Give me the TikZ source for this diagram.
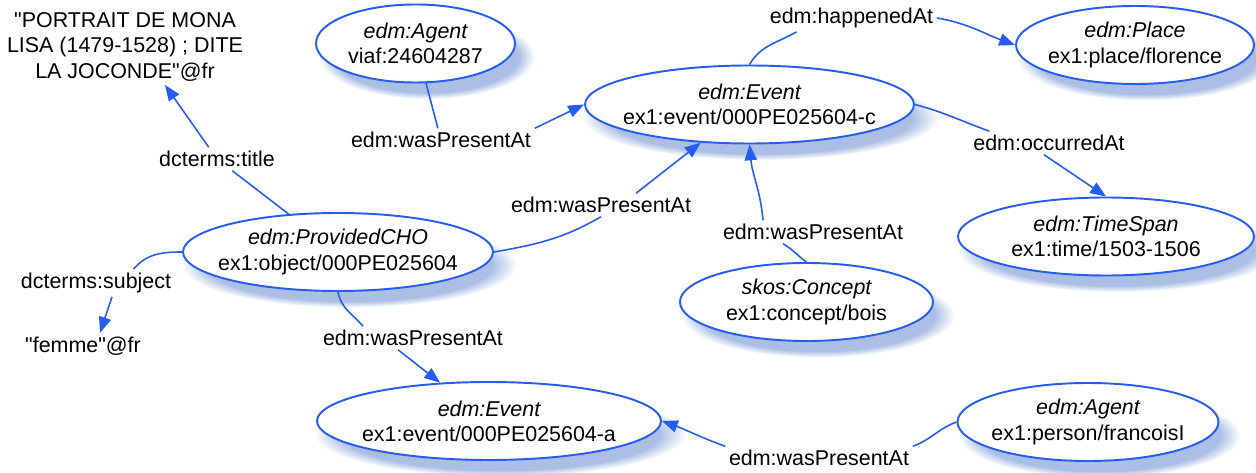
\documentclass[tikz,border=0pt]{standalone}
\usepackage{fontspec}
\newfontfamily\edmfont{Liberation Sans}
\usetikzlibrary{arrows.meta,shapes.geometric,shadows}
\definecolor{relblue}{RGB}{38,92,240}
\definecolor{shadeblue}{RGB}{150,175,222}

\begin{document}
\begin{tikzpicture}[font=\edmfont\fontsize{12.2}{14.3}\selectfont,
obj/.style={ellipse, draw=relblue, line width=1.1pt, fill=white, inner ysep=0pt, inner xsep=-1cm, minimum height=1.56cm, align=center,
  circular drop shadow={shadow xshift=6pt, shadow yshift=-7pt, shadow scale=1.08, fill=shadeblue, opacity=0.8}},
lit/.style={align=center, inner sep=2pt},
lbl/.style={inner sep=2pt},
rel/.style={draw=relblue, line width=0.9pt},
arr/.style={rel, -{Triangle[length=9pt,width=7pt]}}]
%\draw[help lines] (0,0) grid (25,9);
\useasboundingbox (0,0) rectangle (25.12,9.44);
\node (title) [lit] at (2.50,8.50) {"PORTRAIT DE MONA\\LISA (1479-1528) ; DITE\\LA JOCONDE"@fr};
\node (femme) [lit] at (1.66,2.52) {"femme"@fr};
\node (ag1) [obj, minimum width=3.98cm] at (8.31,8.57) {\itshape edm:Agent\\viaf:24604287};
\node (evc) [obj, minimum width=6.58cm] at (14.99,7.35) {\itshape edm:Event\\ex1:event/000PE025604-c};
\node (place) [obj, minimum width=4.76cm] at (22.70,8.54) {\itshape edm:Place\\ex1:place/florence};
\node (ts) [obj, minimum width=5.92cm] at (22.12,4.71) {\itshape edm:TimeSpan\\ex1:time/1503-1506};
\node (con) [obj, minimum width=5.06cm] at (16.13,3.40) {\itshape skos:Concept\\ex1:concept/bois};
\node (cho) [obj, minimum width=6.20cm] at (6.76,4.40) {\itshape edm:ProvidedCHO\\ex1:object/000PE025604};
\node (eva) [obj, minimum width=6.88cm] at (9.78,1.02) {\itshape edm:Event\\ex1:event/000PE025604-a};
\node (ag2) [obj, minimum width=5.22cm] at (21.76,1.00) {\itshape edm:Agent\\ex1:person/francoisI};
% property labels
\node (ltitle) [lbl] at (4.34,6.26) {dcterms:title};
\node (lsubj) [lbl] at (1.92,3.78) {dcterms:subject};
\node (lag1) [lbl] at (8.82,6.64) {edm:wasPresentAt};
\node (lcho) [lbl] at (12.02,5.34) {edm:wasPresentAt};
\node (lhap) [lbl] at (17.03,9.08) {edm:happenedAt};
\node (locc) [lbl] at (20.98,6.58) {edm:occurredAt};
\node (lcon) [lbl] at (16.26,4.80) {edm:wasPresentAt};
\node (lchoa) [lbl] at (8.26,2.68) {edm:wasPresentAt};
\node (lag2) [lbl] at (16.38,0.28) {edm:wasPresentAt};
\path
(cho) edge[rel] (ltitle)
(ltitle) edge[arr] ([xshift=0.8cm]title.south)
(cho.west) edge[rel, out=180, in=50] ([xshift=0.75cm]lsubj.north)
([xshift=0.32cm]lsubj.south) edge[arr] ([xshift=0.34cm]femme.north)
(ag1) edge[rel] (lag1)
(lag1.north east) edge[arr] (evc.west)
(cho.east) edge[rel, out=10, in=-150] (lcho.south)
([xshift=0.7cm]lcho.north) edge[arr] (evc)
(evc.north) edge[rel, out=60, in=-150] ([xshift=-1.1cm]lhap.south)
(lhap.east) edge[arr, out=-10, in=160] (place.west)
(evc.east) edge[rel, out=-15, in=160] ([xshift=0.4cm]locc.north west)
([xshift=-0.1cm]locc.south) edge[arr] (ts.north)
(con.north) edge[rel, out=145, in=-30] ([xshift=-0.6cm]lcon.south)
([xshift=-1.0cm]lcon.north) edge[arr, out=95, in=-85] (evc.south)
(cho.south) edge[rel, out=-80, in=130] ([xshift=-1cm]lchoa.north)
([xshift=-0.3cm]lchoa.south) edge[arr] (eva)
(ag2.west) edge[rel, out=-160, in=20] (lag2.north east)
(lag2.north west) edge[arr, out=160, in=-20] (eva.east);
\end{tikzpicture}
\end{document}
